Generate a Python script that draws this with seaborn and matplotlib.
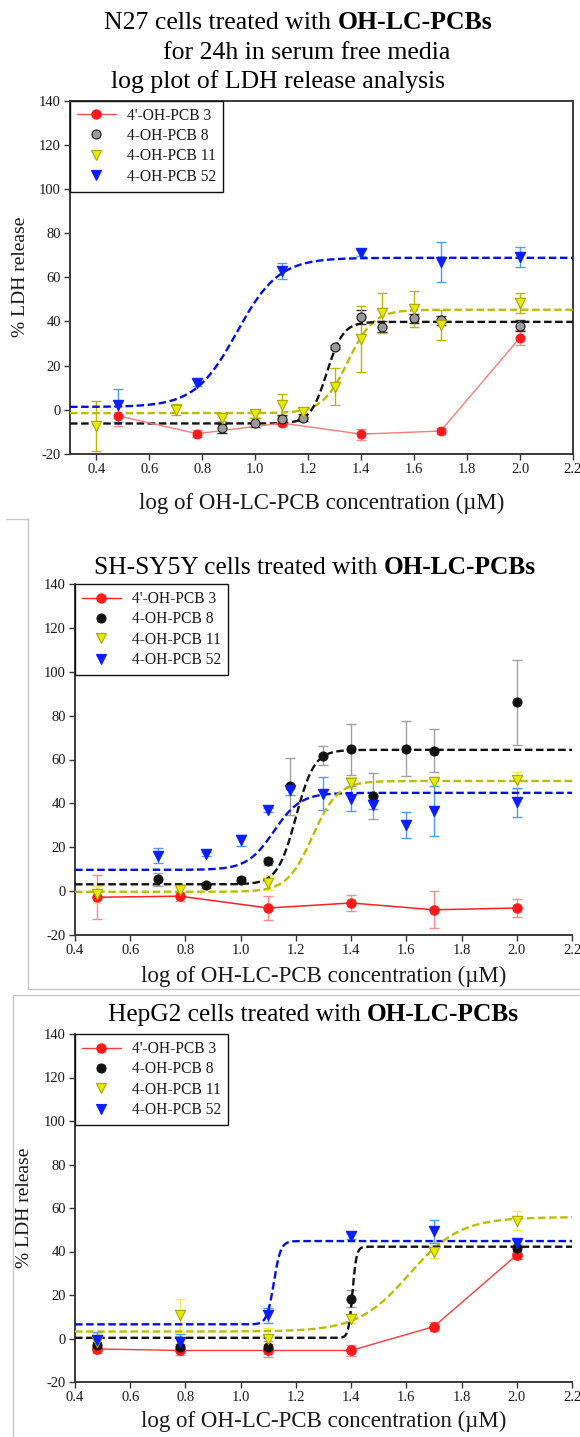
import numpy as np
import matplotlib
matplotlib.use("Agg")
import matplotlib.pyplot as plt
import seaborn as sns
from matplotlib.lines import Line2D

# ---------------- data ----------------
labels = ["4'-OH-PCB 3", "4-OH-PCB 8", "4-OH-PCB 11", "4-OH-PCB 52"]
x_ticks = [0.4, 0.6, 0.8, 1.0, 1.2, 1.4, 1.6, 1.8, 2.0, 2.2]
y_ticks = [-20, 0, 20, 40, 60, 80, 100, 120, 140]

# Panel 1: N27
n27_x_pcb3 = [0.48, 0.78, 1.10, 1.40, 1.70, 2.00]
n27_y_pcb3 = [-2.7, -10.8, -6.0, -11.0, -9.6, 32.7]
n27_e_pcb3 = [4.5, 1.5, 1.5, 2.5, 1.5, 3.5]
n27_x_pcb8 = [0.875, 1.00, 1.10, 1.18, 1.30, 1.40, 1.48, 1.60, 1.70, 2.00]
n27_y_pcb8 = [-8.4, -5.8, -4.3, -3.5, 28.3, 42.0, 37.6, 41.5, 40.5, 38.0]
n27_e_pcb8 = [2.0, 2.0, 2.0, 1.5, 1.0, 3.0, 2.5, 2.0, 2.0, 2.5]
n27_x_pcb11 = [0.40, 0.70, 0.875, 1.00, 1.10, 1.18, 1.30, 1.40, 1.48, 1.60, 1.70, 2.00]
n27_y_pcb11 = [-7.3, 0.0, -3.5, -2.0, 2.3, -1.2, 10.5, 32.0, 43.8, 45.6, 38.4, 48.3]
n27_e_pcb11 = [11.3, 2.5, 1.5, 1.5, 5.0, 2.0, 8.5, 15.0, 9.0, 8.0, 7.0, 4.5]
n27_x_pcb52 = [0.48, 0.78, 1.10, 1.40, 1.70, 2.00]
n27_y_pcb52 = [2.0, 12.3, 62.8, 71.0, 67.0, 69.0]
n27_e_pcb52 = [7.5, 1.5, 3.5, 1.5, 9.0, 4.5]
# fitted sigmoid parameters: bottom, top, logEC50, hill
n27_fit_pcb8 = [-6.2, 39.8, 1.27, 14.0]
n27_fit_pcb11 = [-1.5, 45.3, 1.35, 9.0]
n27_fit_pcb52 = [1.3, 68.8, 0.93, 5.5]

# Panel 2: SH-SY5Y
sh_x_pcb3 = [0.48, 0.78, 1.10, 1.40, 1.70, 2.00]
sh_y_pcb3 = [-2.8, -2.3, -7.7, -5.4, -8.5, -7.7]
sh_e_pcb3 = [10.0, 2.0, 5.5, 3.5, 8.5, 4.0]
sh_x_pcb8 = [0.70, 0.875, 1.00, 1.10, 1.18, 1.30, 1.40, 1.48, 1.60, 1.70, 2.00]
sh_y_pcb8 = [5.4, 2.6, 5.0, 13.6, 47.9, 61.8, 64.6, 43.2, 64.9, 64.1, 86.0]
sh_e_pcb8 = [3.0, 1.0, 1.5, 1.5, 13.0, 4.5, 11.5, 10.5, 12.5, 10.0, 19.5]
sh_x_pcb11 = [0.48, 0.78, 1.10, 1.40, 1.70, 2.00]
sh_y_pcb11 = [-1.5, 0.3, 3.9, 49.4, 49.9, 50.5]
sh_e_pcb11 = [4.0, 3.0, 3.5, 2.5, 2.0, 4.0]
sh_x_pcb52 = [0.70, 0.875, 1.00, 1.10, 1.18, 1.30, 1.40, 1.48, 1.60, 1.70, 2.00]
sh_y_pcb52 = [16.2, 17.0, 23.2, 37.1, 45.9, 44.3, 42.2, 39.4, 30.1, 36.6, 40.5]
sh_e_pcb52 = [3.5, 1.0, 2.5, 1.0, 2.0, 7.5, 5.5, 2.0, 6.0, 11.5, 6.5]
sh_fit_pcb8 = [3.1, 64.4, 1.20, 13.0]
sh_fit_pcb11 = [-0.3, 50.2, 1.26, 9.5]
sh_fit_pcb52 = [9.7, 44.8, 1.12, 9.0]

# Panel 3: HepG2
hep_x_pcb3 = [0.48, 0.78, 1.10, 1.40, 1.70, 2.00]
hep_y_pcb3 = [-4.8, -5.5, -5.5, -5.5, 5.5, 38.4]
hep_e_pcb3 = [2.0, 2.0, 3.0, 2.5, 2.0, 2.0]
hep_x_pcb8 = [0.48, 0.78, 1.10, 1.40, 2.00]
hep_y_pcb8 = [-3.0, -4.0, -4.0, 18.3, 41.4]
hep_e_pcb8 = [1.5, 1.5, 3.0, 4.0, 2.0]
hep_x_pcb11 = [0.48, 0.78, 1.10, 1.40, 1.70, 2.00]
hep_y_pcb11 = [-1.7, 10.6, 0.0, 9.1, 39.9, 54.2]
hep_e_pcb11 = [4.0, 7.7, 5.0, 2.0, 3.0, 4.5]
hep_x_pcb52 = [0.48, 0.78, 1.10, 1.40, 1.70, 2.00]
hep_y_pcb52 = [-0.6, -1.4, 10.6, 47.1, 49.2, 43.8]
hep_e_pcb52 = [3.5, 3.5, 3.5, 1.5, 5.5, 1.5]
hep_fit_pcb8 = [0.3, 42.2, 1.405, 60.0]
hep_fit_pcb11 = [3.2, 55.8, 1.61, 4.7]
hep_fit_pcb52 = [6.5, 44.8, 1.12, 35.0]

# ---------------- style ----------------
sns.set_theme(style="ticks")
SERIF = ["Liberation Serif", "DejaVu Serif"]
plt.rcParams["font.family"] = SERIF
plt.rcParams["axes.unicode_minus"] = False

W, H = 580, 1437
fig = plt.figure(figsize=(W / 100, H / 100), dpi=100)
fig.patch.set_facecolor("white")

RED = "#ff1a1a"
RED_ERR = "#ff8c8c"
BLUE = "#0a1eff"
BLUE_FIT = "#0010e8"
BLUE_ERR = "#4a9cff"
YEL = "#e8e800"
YEL_EDGE = "#a8a800"
YEL_FIT = "#bcbc00"
TXT = "#1a1a1a"


def px_axes(left, top, right, bottom):
    return fig.add_axes([left / W, 1 - bottom / H, (right - left) / W, (bottom - top) / H])


def sigmoid(p, xx):
    b, t, ec, h = p
    return b + (t - b) / (1 + 10 ** ((ec - xx) * h))


def draw_fit(ax, p, x0, color):
    xx = np.linspace(x0, 2.2, 600)
    sns.lineplot(x=xx, y=sigmoid(p, xx), ax=ax, color=color, lw=1.7,
                 estimator=None, sort=False, zorder=3)
    ax.lines[-1].set_linestyle((0, (3.2, 1.5)))


def draw_points(ax, x, y, e, marker, face, edge, ecolor, size):
    ax.errorbar(x, y, yerr=e, fmt="none", ecolor=ecolor, elinewidth=1.0,
                capsize=3.5, capthick=1.0, zorder=2)
    sns.scatterplot(x=x, y=y, ax=ax, marker=marker, s=size, color=face,
                    edgecolor=edge, linewidth=0.8, zorder=4, legend=False)


def style_axes(ax, xlo, full_box, labelpad):
    ax.set_xlim(xlo, 2.2)
    ax.set_ylim(-20, 140)
    ax.set_xticks(x_ticks)
    ax.set_xticklabels([f"{v:.1f}" for v in x_ticks])
    ax.set_yticks(y_ticks)
    ax.set_yticklabels([str(v) for v in y_ticks])
    ax.tick_params(axis="both", direction="out", length=4, width=1.0,
                   color="#333333", labelsize=10.5, labelcolor=TXT, pad=2.5)
    for s in ["left", "bottom", "top", "right"]:
        ax.spines[s].set_color("#3a3a3a")
        ax.spines[s].set_linewidth(1.4)
    if not full_box:
        ax.spines["top"].set_visible(False)
        ax.spines["right"].set_visible(False)
    ax.set_facecolor("white")
    ax.grid(False)
    ax.set_xlabel("log of OH-LC-PCB concentration (\u00b5M)", fontsize=16.5,
                  color=TXT, labelpad=labelpad)


def add_legend(ax, pcb8_face, red_line):
    handles = [
        Line2D([0], [0], color=red_line, lw=1.0, marker="o", markersize=6.5,
               markerfacecolor=RED, markeredgecolor=RED),
        Line2D([0], [0], ls="none", marker="o", markersize=6.5,
               markerfacecolor=pcb8_face, markeredgecolor="#111111", markeredgewidth=0.8),
        Line2D([0], [0], ls="none", marker="v", markersize=7,
               markerfacecolor=YEL, markeredgecolor=YEL_EDGE, markeredgewidth=0.8),
        Line2D([0], [0], ls="none", marker="v", markersize=7,
               markerfacecolor=BLUE, markeredgecolor=BLUE, markeredgewidth=0.8),
    ]
    leg = ax.legend(handles, labels, loc="upper left", bbox_to_anchor=(0, 1),
                    borderaxespad=0, fancybox=False, framealpha=1,
                    edgecolor="#111111", fontsize=11.2, handlelength=2.5,
                    handletextpad=0.7, labelspacing=0.28, borderpad=0.45)
    leg.get_frame().set_linewidth(1.0)
    for t in leg.get_texts():
        t.set_color(TXT)
    return leg


def mixed_title(y_px, x_left_px, normal, bold, size):
    t1 = fig.text(x_left_px / W, 1 - y_px / H, normal, fontsize=size, ha="left",
                  va="baseline", color="black")
    t2 = fig.text(0, 1 - y_px / H, bold, fontsize=size, fontweight="bold", ha="left",
                  va="baseline", color="black")
    fig.canvas.draw()
    r = fig.canvas.get_renderer()
    w1 = t1.get_window_extent(r).width
    gap = 0.25 * size * 100 / 72
    t2.set_x((x_left_px + w1 + gap) / W)


def left_title(y_px, x_left_px, text, size):
    fig.text(x_left_px / W, 1 - y_px / H, text, fontsize=size, ha="left", va="baseline",
             color="black")


# ---------------- panel 1: N27 ----------------
ax1 = px_axes(70, 100.5, 573, 454)
draw_fit(ax1, n27_fit_pcb52, 0.3, BLUE_FIT)
draw_fit(ax1, n27_fit_pcb11, 0.3, YEL_FIT)
draw_fit(ax1, n27_fit_pcb8, 0.3, "#111111")
sns.lineplot(x=n27_x_pcb3, y=n27_y_pcb3, ax=ax1, color="#ff7a7a", lw=1.0,
             estimator=None, sort=False, zorder=3)
draw_points(ax1, n27_x_pcb3, n27_y_pcb3, n27_e_pcb3, "o", RED, RED, RED_ERR, 40)
draw_points(ax1, n27_x_pcb8, n27_y_pcb8, n27_e_pcb8, "o", "#9a9a9a", "#111111", "#333333", 42)
draw_points(ax1, n27_x_pcb11, n27_y_pcb11, n27_e_pcb11, "v", YEL, YEL_EDGE, "#b8b800", 55)
draw_points(ax1, n27_x_pcb52, n27_y_pcb52, n27_e_pcb52, "v", BLUE, BLUE, BLUE_ERR, 55)
style_axes(ax1, 0.3, True, 12)
ax1.set_ylabel("% LDH release", fontsize=14, color=TXT)
ax1.yaxis.set_label_coords((29 - 70) / 503, 0.5)
add_legend(ax1, "#9a9a9a", "#ff5050")

# ---------------- panel 2: SH-SY5Y ----------------
ax2 = px_axes(75, 584, 572, 935)
draw_fit(ax2, sh_fit_pcb52, 0.4, BLUE_FIT)
draw_fit(ax2, sh_fit_pcb11, 0.4, YEL_FIT)
draw_fit(ax2, sh_fit_pcb8, 0.4, "#111111")
sns.lineplot(x=sh_x_pcb3, y=sh_y_pcb3, ax=ax2, color="#ff2020", lw=1.1,
             estimator=None, sort=False, zorder=3)
draw_points(ax2, sh_x_pcb3, sh_y_pcb3, sh_e_pcb3, "o", RED, RED, RED_ERR, 45)
draw_points(ax2, sh_x_pcb8, sh_y_pcb8, sh_e_pcb8, "o", "#111111", "#111111", "#a0a0a0", 42)
draw_points(ax2, sh_x_pcb11, sh_y_pcb11, sh_e_pcb11, "v", YEL, YEL_EDGE, "#eeee50", 55)
draw_points(ax2, sh_x_pcb52, sh_y_pcb52, sh_e_pcb52, "v", BLUE, BLUE, BLUE_ERR, 55)
style_axes(ax2, 0.4, False, 6)
add_legend(ax2, "#111111", "#ff2020")

# ---------------- panel 3: HepG2 ----------------
ax3 = px_axes(75, 1034, 572, 1382)
draw_fit(ax3, hep_fit_pcb52, 0.4, BLUE_FIT)
draw_fit(ax3, hep_fit_pcb11, 0.4, YEL_FIT)
draw_fit(ax3, hep_fit_pcb8, 0.4, "#111111")
sns.lineplot(x=hep_x_pcb3, y=hep_y_pcb3, ax=ax3, color="#ff3a3a", lw=1.0,
             estimator=None, sort=False, zorder=3)
draw_points(ax3, hep_x_pcb3, hep_y_pcb3, hep_e_pcb3, "o", RED, RED, RED_ERR, 48)
draw_points(ax3, hep_x_pcb8, hep_y_pcb8, hep_e_pcb8, "o", "#111111", "#111111", "#a0a0a0", 42)
draw_points(ax3, hep_x_pcb11, hep_y_pcb11, hep_e_pcb11, "v", YEL, YEL_EDGE, "#eeee50", 55)
draw_points(ax3, hep_x_pcb52, hep_y_pcb52, hep_e_pcb52, "v", BLUE, BLUE, BLUE_ERR, 55)
style_axes(ax3, 0.4, False, 5)
ax3.set_ylabel("% LDH release", fontsize=14, color=TXT)
ax3.yaxis.set_label_coords((33 - 75) / 497, 0.5)
add_legend(ax3, "#111111", "#ff3a3a")

# ---------------- titles ----------------
mixed_title(29, 104, "N27 cells treated with", "OH-LC-PCBs", 18.5)
left_title(59, 163, "for 24h in serum free media", 18.5)
left_title(88, 111, "log plot of LDH release analysis", 18.5)
mixed_title(574, 94, "SH-SY5Y cells treated with", "OH-LC-PCBs", 18.3)
mixed_title(1021, 108, "HepG2 cells treated with", "OH-LC-PCBs", 18.3)

# ---------------- screenshot frame lines ----------------
GRAY = "#c8c8c8"
for (x1, y1, x2, y2) in [(5.5, 519, 27.7, 519), (27.7, 519, 27.7, 989),
                         (27.7, 989, 580, 989), (13, 995, 580, 995), (13, 995, 13, 1437)]:
    fig.add_artist(Line2D([x1 / W, x2 / W], [1 - y1 / H, 1 - y2 / H],
                          transform=fig.transFigure, color=GRAY, lw=1.0))

fig.savefig("out.png", dpi=100, facecolor="white")
